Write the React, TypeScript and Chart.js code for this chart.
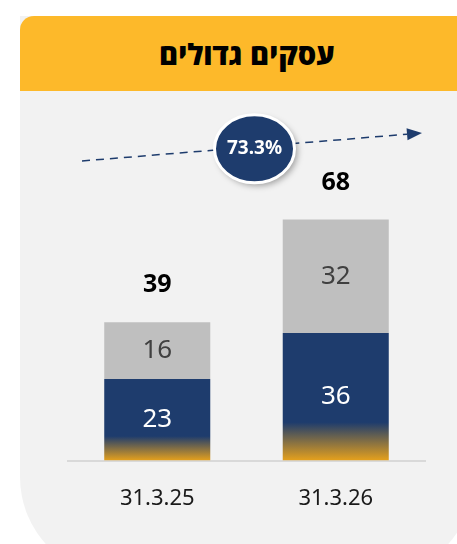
import React, { useEffect, useRef } from "react";
import { Chart, registerables } from "chart.js";

Chart.register(...registerables);

const categories = ["31.3.25", "31.3.26"];
const navyValues = [23, 36];
const grayValues = [16, 32];
const growthLabel = "73.3%";
const title = "עסקים גדולים";

const NAVY = "#1E3C6D";
const GRAY = "#BFBFBF";
const GOLD = "#E6A11C";
const NUM_FONT = "'Noto Sans', 'Open Sans', sans-serif";

const labelsPlugin = {
  id: "customLabels",
  afterDatasetsDraw(chart: any) {
    const ctx = chart.ctx;
    ctx.save();
    ctx.textAlign = "center";
    ctx.textBaseline = "middle";
    chart.data.datasets.forEach((ds: any, di: number) => {
      const meta = chart.getDatasetMeta(di);
      meta.data.forEach((el: any, i: number) => {
        ctx.font = `400 26px ${NUM_FONT}`;
        ctx.fillStyle = di === 0 ? "#FFFFFF" : "#404040";
        ctx.fillText(String(ds.data[i]), el.x, (el.y + el.base) / 2);
      });
    });
    const top = chart.getDatasetMeta(chart.data.datasets.length - 1);
    top.data.forEach((el: any, i: number) => {
      const total = chart.data.datasets.reduce((s: number, d: any) => s + d.data[i], 0);
      ctx.font = `700 25px ${NUM_FONT}`;
      ctx.fillStyle = "#000000";
      ctx.fillText(String(total), el.x, el.y - 37);
    });
    ctx.restore();
  },
};

const arrowPlugin = {
  id: "growthArrow",
  afterDraw(chart: any) {
    const ctx = chart.ctx;
    const area = chart.chartArea;
    const x0 = area.left + 14;
    const y0 = area.top - 16;
    const x1 = area.right - 3;
    const y1 = area.top - 44;
    const ang = Math.atan2(y1 - y0, x1 - x0);
    const headLen = 15;
    const hx = x1 - headLen * Math.cos(ang);
    const hy = y1 - headLen * Math.sin(ang);
    ctx.save();
    ctx.strokeStyle = NAVY;
    ctx.lineWidth = 1.5;
    ctx.setLineDash([8, 6]);
    ctx.beginPath();
    ctx.moveTo(x0, y0);
    ctx.lineTo(hx, hy);
    ctx.stroke();
    ctx.setLineDash([]);
    ctx.fillStyle = NAVY;
    ctx.beginPath();
    ctx.moveTo(x1, y1);
    ctx.lineTo(hx + 6 * Math.sin(ang), hy - 6 * Math.cos(ang));
    ctx.lineTo(hx - 6 * Math.sin(ang), hy + 6 * Math.cos(ang));
    ctx.closePath();
    ctx.fill();

    const xs = chart.scales.x;
    const cx = (xs.getPixelForValue(0) + xs.getPixelForValue(1)) / 2 + 8;
    const t = (cx - x0) / (x1 - x0);
    const cy = y0 + t * (y1 - y0) + 2;
    ctx.shadowColor = "rgba(0,0,0,0.35)";
    ctx.shadowBlur = 6;
    ctx.shadowOffsetX = 3;
    ctx.shadowOffsetY = 3;
    ctx.beginPath();
    ctx.ellipse(cx, cy, 40, 34, 0, 0, Math.PI * 2);
    ctx.fillStyle = NAVY;
    ctx.fill();
    ctx.shadowColor = "transparent";
    ctx.lineWidth = 3;
    ctx.strokeStyle = "#FFFFFF";
    ctx.stroke();
    ctx.fillStyle = "#FFFFFF";
    ctx.font = `700 19px ${NUM_FONT}`;
    ctx.textAlign = "center";
    ctx.textBaseline = "middle";
    ctx.fillText(growthLabel, cx, cy);
    ctx.restore();
  },
};

export default function App() {
  const ref = useRef<HTMLCanvasElement | null>(null);

  useEffect(() => {
    if (!ref.current) return;
    const chart = new Chart(ref.current, {
      type: "bar",
      data: {
        labels: categories,
        datasets: [
          {
            data: navyValues,
            backgroundColor: (c: any) => {
              const ch = c.chart;
              const ys = ch.scales.y;
              if (!ys || !ch.chartArea) return NAVY;
              const v = c.raw as number;
              const yTop = ys.getPixelForValue(v);
              const yBot = ys.getPixelForValue(0);
              const g = ch.ctx.createLinearGradient(0, yTop, 0, yBot);
              g.addColorStop(0, NAVY);
              g.addColorStop(0.7, NAVY);
              g.addColorStop(1, GOLD);
              return g;
            },
            borderWidth: 0,
          },
          { data: grayValues, backgroundColor: GRAY, borderWidth: 0 },
        ],
      },
      options: {
        animation: false,
        responsive: false,
        maintainAspectRatio: false,
        events: [],
        layout: { padding: { left: 68, right: 32, top: 177, bottom: 7 } },
        datasets: { bar: { categoryPercentage: 1, barPercentage: 0.594 } },
        plugins: { legend: { display: false }, tooltip: { enabled: false } },
        scales: {
          x: {
            stacked: true,
            grid: { display: false, drawTicks: false },
            border: { display: true, color: "#D9D9D9", width: 2 },
            ticks: { color: "#1A1A1A", font: { family: NUM_FONT, size: 22 }, padding: 25 },
          },
          y: { stacked: true, display: false, min: 0, max: 80 },
        },
      },
      plugins: [labelsPlugin, arrowPlugin],
    });
    return () => chart.destroy();
  }, []);

  return (
    <div style={{ position: "absolute", left: 0, top: 0, width: 457, height: 544, overflow: "hidden", background: "#FFFFFF" }}>
      <div
        style={{
          position: "absolute",
          left: 20,
          top: 16,
          width: 454,
          height: 561,
          background: "#F2F2F2",
          borderBottomLeftRadius: 100,
          borderBottomRightRadius: 100,
        }}
      />
      <div
        style={{
          position: "absolute",
          left: 20,
          top: 16,
          width: 454,
          height: 75,
          background: "#FDB92A",
          borderTopLeftRadius: 14,
          display: "flex",
          alignItems: "center",
          justifyContent: "center",
          direction: "rtl",
          fontFamily: "'Open Sans', 'DejaVu Sans', sans-serif",
          fontWeight: 800,
          fontSize: 29,
          color: "#000",
          lineHeight: "1",
        }}
      >
        {title}
      </div>
      <canvas ref={ref} width={457} height={544} style={{ position: "absolute", left: 0, top: 0, width: 457, height: 544 }} />
    </div>
  );
}
